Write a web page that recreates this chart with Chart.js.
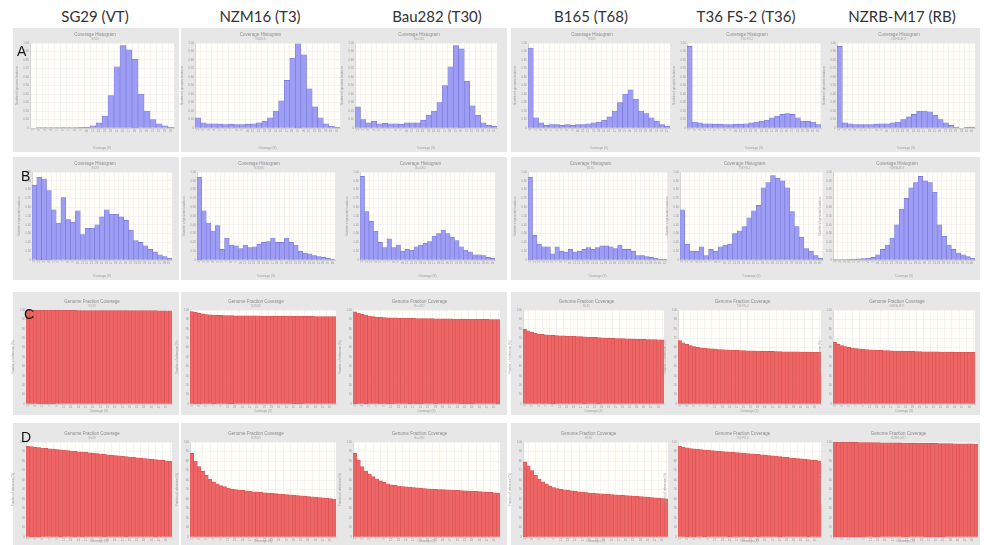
<!DOCTYPE html>
<html>
<head>
<meta charset="utf-8">
<script src="https://cdn.jsdelivr.net/npm/chart.js@4/dist/chart.umd.min.js"></script>
<style>
  body { margin: 0; width: 984px; height: 545px; overflow: hidden; position: relative; background: #fff; font-family: Lato, "Open Sans", sans-serif; }
  .panel { position: absolute; background: #e7e7e7; }
  .head { position: absolute; top: 7px; font-size: 15px; color: #333; transform: translateX(-50%); white-space: nowrap; }
  .letter { position: absolute; font-size: 14px; color: #111; font-family: "Liberation Sans", sans-serif; }
  canvas { position: absolute; }
</style>
</head>
<body>
<script>
// column headers
const samples = ['SG29 (VT)', 'NZM16 (T3)', 'Bau282 (T30)', 'B165 (T68)', 'T36 FS-2 (T36)', 'NZRB-M17 (RB)'];
const sampleIds = ['SG29', 'NZM16', 'Bau282', 'B165', 'T36 FS-2', 'NZRB-M17'];
const rowLetters = ['A', 'B', 'C', 'D'];
const rowTitles = ['Coverage Histogram', 'Coverage Histogram', 'Genome Fraction Coverage', 'Genome Fraction Coverage'];

// tick labels
const coverageLabels = ['1','2','3','4','5','6','7','8','9','10','11','12','13','14','15','16',
  '17','18','19','20','21','22','23','24','25','26','27','28','29','30','31'];
const fractionLabels = ['1','2','3','4','5','6','7','8','9','10','11','12','13','14','15','16','17','18','19','20',
  '21','22','23','24','25','26','27','28','29','30','31','32','33','34','35','36','37','38','39','40'];

// row A - coverage histogram (relative number of genomic locations)
const sg29A = [0,0.004,0.004,0.004,0.004,0.005,0.005,0.006,0.008,0.012,0.025,0.06,0.14,0.38,0.72,0.97,0.92,0.81,0.40,0.20,0.10,0.05,0.025,0.01];
const nzm16A = [0.12,0.06,0.05,0.05,0.045,0.04,0.045,0.04,0.04,0.045,0.05,0.06,0.08,0.12,0.2,0.32,0.56,0.82,0.99,0.86,0.46,0.25,0.12,0.05,0.02,0.01];
const bau282A = [0.25,0.1,0.06,0.08,0.05,0.055,0.05,0.05,0.045,0.06,0.06,0.06,0.09,0.15,0.2,0.3,0.5,0.72,0.97,0.93,0.55,0.26,0.15,0.06,0.03,0.02];
const b165A = [0.94,0.12,0.06,0.03,0.04,0.04,0.03,0.04,0.03,0.04,0.04,0.05,0.06,0.07,0.09,0.13,0.2,0.3,0.4,0.45,0.34,0.2,0.17,0.12,0.08,0.04,0.02];
const t36A = [0.96,0.07,0.06,0.05,0.05,0.045,0.045,0.04,0.04,0.045,0.045,0.05,0.06,0.07,0.08,0.09,0.12,0.14,0.16,0.17,0.16,0.12,0.08,0.08,0.07,0.04];
const nzrbA = [0.96,0.06,0.05,0.04,0.04,0.04,0.04,0.045,0.05,0.05,0.06,0.07,0.1,0.13,0.16,0.2,0.2,0.19,0.15,0.1,0.06,0.03,0.01,0,0.01,0.01];

// row B - coverage histogram
const sg29B = [0.85,0.94,0.92,0.79,0.57,0.42,0.71,0.46,0.43,0.56,0.29,0.36,0.36,0.40,0.49,0.57,0.52,0.52,0.49,0.45,0.34,0.22,0.2,0.16,0.12,0.09,0.06,0.04,0.02];
const nzm16B = [0.94,0.56,0.42,0.33,0.39,0.12,0.25,0.17,0.16,0.13,0.17,0.14,0.15,0.18,0.2,0.21,0.25,0.2,0.2,0.25,0.2,0.17,0.1,0.08,0.07,0.05,0.04,0.03,0.02,0.01];
const bau282B = [0.95,0.55,0.44,0.33,0.2,0.14,0.24,0.14,0.17,0.1,0.12,0.11,0.15,0.17,0.19,0.21,0.27,0.3,0.34,0.3,0.26,0.22,0.15,0.11,0.09,0.06,0.06,0.05,0.03,0.02];
const b165B = [0.94,0.28,0.18,0.15,0.15,0.07,0.15,0.1,0.09,0.12,0.09,0.1,0.12,0.14,0.12,0.14,0.16,0.16,0.15,0.13,0.17,0.12,0.12,0.1,0.05,0.05,0.04,0.03,0.02,0.01,0.01];
const t36B = [0.57,0.18,0.1,0.1,0.15,0.05,0.12,0.1,0.15,0.17,0.18,0.3,0.33,0.38,0.48,0.56,0.62,0.82,0.88,0.96,0.93,0.9,0.82,0.55,0.38,0.26,0.13,0.1,0.05,0.02];
const nzrbB = [0.005,0.005,0.005,0.008,0.01,0.012,0.015,0.02,0.03,0.06,0.12,0.17,0.25,0.4,0.58,0.7,0.82,0.88,0.95,0.9,0.88,0.77,0.4,0.27,0.17,0.12,0.08,0.06,0.04,0.02];

// row C - genome fraction coverage (%)
const sg29C = [99.8,99.8,99.8,99.7,99.7,99.7,99.7,99.7,99.6,99.6,99.6,99.6,99.6,99.6,99.5,99.5,99.5,99.5,99.5,99.5,
  99.5,99.4,99.4,99.4,99.4,99.4,99.4,99.4,99.3,99.3,99.3,99.3,99.3,99.3,99.3,99.3,99.2,99.2,99.2,99.2];
const nzm16C = [98.2,97.4,96.6,95.8,95.2,94.8,94.5,94.3,94.2,94.1,94.0,94.0,93.9,93.9,93.8,93.8,93.7,93.7,93.7,93.6,
  93.6,93.6,93.5,93.5,93.5,93.4,93.4,93.4,93.3,93.3,93.3,93.2,93.2,93.2,93.1,93.1,93.1,93.0,93.0,93.0];
const bau282C = [98.0,96.8,95.5,94.5,93.6,93.0,92.5,92.2,92.0,91.8,91.7,91.6,91.5,91.4,91.3,91.2,91.1,91.0,91.0,90.9,
  90.8,90.8,90.7,90.6,90.6,90.5,90.5,90.4,90.4,90.3,90.3,90.2,90.2,90.1,90.1,90.0,90.0,89.9,89.9,89.8];
const b165C = [79.5,77.8,76.4,75.3,74.5,74.0,73.6,73.3,73.0,72.8,72.6,72.4,72.2,72.1,72.0,71.8,71.6,71.4,71.2,71.0,
  70.8,70.6,70.4,70.2,70.0,69.8,69.7,69.6,69.5,69.3,69.2,69.0,68.9,68.8,68.7,68.6,68.5,68.4,68.3,68.2];
const t36C = [67.5,65.2,63.5,62.2,61.2,60.4,59.8,59.3,58.9,58.6,58.3,58.0,57.8,57.6,57.4,57.2,57.0,56.9,56.8,56.6,
  56.5,56.4,56.3,56.2,56.1,56.0,55.9,55.8,55.7,55.6,55.6,55.5,55.4,55.4,55.3,55.2,55.2,55.1,55.0,55.0];
const nzrbC = [65.5,63.6,62.2,61.1,60.2,59.5,59.0,58.6,58.2,57.9,57.6,57.4,57.2,57.0,56.8,56.7,56.5,56.4,56.3,56.2,
  56.1,56.0,55.9,55.8,55.7,55.6,55.6,55.5,55.4,55.4,55.3,55.3,55.2,55.2,55.1,55.1,55.0,55.0,54.9,54.9];

// row D - genome fraction coverage (%)
const sg29D = [95.5,95.1,94.6,94.2,93.7,93.3,92.9,92.5,92.1,91.7,91.3,90.9,90.5,90.1,89.7,89.4,89.0,88.6,88.2,87.8,
  87.4,87.0,86.6,86.2,85.8,85.4,85.0,84.6,84.2,83.8,83.4,83.0,82.6,82.2,81.8,81.4,81.0,80.7,80.3,80.0];
const nzm16D = [88,80,74,69,65,61,58,56,54,53,51.5,50.5,50,49.5,49,48.5,48,47.5,47.2,47,
  46.5,46.2,46,45.6,45.3,45,44.6,44.3,44,43.7,43.3,43,42.6,42.3,42,41.6,41.2,40.8,40.4,40];
const bau282D = [88,81,74,69,66,63.5,61,59,57.5,56,55,54.3,53.6,53.1,52.7,52.3,52,51.7,51.4,51.1,
  50.8,50.5,50.2,50,49.8,49.6,49.4,49.2,49,48.8,48.6,48.4,48.2,48,47.8,47.5,47.2,46.9,46.6,46.3];
const b165D = [79,75,70,65,61,58,55.5,53.5,52,51,50.2,49.6,49,48.5,48,47.6,47.2,46.8,46.3,46,
  45.7,45.4,45.1,44.8,44.6,44.4,44.2,44,43.7,43.4,43.1,42.8,42.5,42.2,41.9,41.6,41.3,40.9,40.5,40.1];
const t36D = [95.5,94.5,93.8,93.2,92.8,92.4,92.0,91.6,91.2,90.9,90.6,90.3,90.0,89.7,89.4,89.1,88.8,88.5,88.2,87.9,
  87.6,87.3,87.0,86.6,86.2,85.8,85.4,85.0,84.6,84.2,83.8,83.4,83.0,82.6,82.2,81.8,81.4,81.0,80.6,80.2];
const nzrbD = [99.8,99.8,99.7,99.7,99.6,99.6,99.6,99.5,99.5,99.4,99.4,99.3,99.3,99.2,99.2,99.1,99.1,99.0,99.0,98.9,
  98.9,98.8,98.8,98.7,98.7,98.6,98.6,98.5,98.5,98.4,98.4,98.3,98.3,98.2,98.2,98.1,98.1,98.0,98.0,97.9];

const rowData = [
  [sg29A, nzm16A, bau282A, b165A, t36A, nzrbA],
  [sg29B, nzm16B, bau282B, b165B, t36B, nzrbB],
  [sg29C, nzm16C, bau282C, b165C, t36C, nzrbC],
  [sg29D, nzm16D, bau282D, b165D, t36D, nzrbD]
];

// ---- layout (pixels) ----
const headX = [95, 260, 437, 591, 746, 902];
const panelY = [[28, 152], [157, 280], [292, 415], [423, 545]];
const panelX = [[13, 179], [181, 507], [511, 980]];
const plotY = [[43, 128], [172, 260], [310, 404], [442, 537]];
const plotX = [
  [[30,174],[195,340],[355,497],[528,670],[687,821],[837,975]],
  [[32,172],[197,335],[360,495],[528,667],[680,823],[833,975]],
  [[26,172],[190,336],[353,500],[523,664],[678,821],[833,975]],
  [[26,172],[190,336],[353,500],[523,668],[678,821],[833,978]]
];
const letterPos = [[17, 43], [21, 168], [24, 306], [21, 429]];

function addDiv(cls, x, y, w, h, text) {
  const d = document.createElement('div');
  d.className = cls;
  d.style.left = x + 'px';
  d.style.top = y + 'px';
  if (w) { d.style.width = w + 'px'; d.style.height = h + 'px'; }
  if (text) d.textContent = text;
  document.body.appendChild(d);
  return d;
}

panelY.forEach(([y1, y2]) => {
  panelX.forEach(([x1, x2]) => addDiv('panel', x1, y1, x2 - x1, y2 - y1));
});
samples.forEach((s, i) => addDiv('head', headX[i], 7, 0, 0, s));

const plotBg = {
  id: 'plotBg',
  beforeDraw(chart) {
    const { ctx, chartArea: a } = chart;
    ctx.save();
    ctx.fillStyle = '#fffef9';
    ctx.fillRect(a.left, a.top, a.width, a.height);
    ctx.restore();
  }
};

const axisW = 14;

function drawChart(r, c) {
  const hist = r < 2;
  const values = rowData[r][c];
  const [px1, px2] = plotX[r][c];
  const [py1, py2] = plotY[r];
  const top = panelY[r][0];
  const bottom = panelY[r][1] - 1;
  const left = px1 - axisW - 2;
  const width = px2 + 3 - left;
  const height = bottom - top;
  const xh = bottom - py2 - 1;
  const titlePad = (py1 - top) - 10.5;

  const canvas = document.createElement('canvas');
  canvas.width = width;
  canvas.height = height;
  canvas.style.left = left + 'px';
  canvas.style.top = top + 'px';
  document.body.appendChild(canvas);

  const grid = { color: '#ebebeb', lineWidth: 0.5, drawTicks: false };
  const tickFont = { size: 3, lineHeight: 1 };

  new Chart(canvas.getContext('2d'), {
    type: 'bar',
    data: {
      labels: (hist ? coverageLabels : fractionLabels).slice(0, values.length),
      datasets: [{
        data: values,
        backgroundColor: hist ? '#9d9df6' : '#ef6565',
        borderColor: hist ? '#7474cf' : '#d45252',
        borderWidth: 0.6,
        barPercentage: 1,
        categoryPercentage: 1
      }]
    },
    options: {
      responsive: false,
      animation: false,
      events: [],
      layout: { padding: { left: 2, right: 3, top: 0, bottom: 1 } },
      plugins: {
        legend: { display: false },
        tooltip: { enabled: false },
        title: {
          display: true, text: rowTitles[r], color: '#8a8a8a',
          font: { size: 4.5, lineHeight: 1, weight: 'normal' },
          padding: { top: titlePad, bottom: 0.5 }
        },
        subtitle: {
          display: true, text: sampleIds[c], color: '#aaa',
          font: { size: 3, lineHeight: 1 },
          padding: { top: 0, bottom: 2.5 }
        }
      },
      scales: {
        x: {
          grid: grid,
          border: { color: '#b5b5b5', width: 0.5 },
          ticks: { font: tickFont, color: '#999', minRotation: 90, maxRotation: 90, autoSkip: !hist, padding: 1 },
          title: { display: true, text: 'Coverage (X)', font: tickFont, color: '#999', padding: 0 },
          afterFit(s) { s.height = xh; }
        },
        y: {
          min: 0,
          max: hist ? 1 : 100,
          grid: grid,
          border: { color: '#b5b5b5', width: 0.5 },
          ticks: { font: tickFont, color: '#999', stepSize: hist ? 0.05 : 5, padding: 1 },
          title: { display: true, text: hist ? 'Number of genomic locations' : 'Fraction of reference (%)', font: tickFont, color: '#999', padding: 0 },
          afterFit(s) { s.width = axisW; }
        }
      }
    },
    plugins: [plotBg]
  });
}

for (let r = 0; r < 4; r++) {
  for (let c = 0; c < 6; c++) drawChart(r, c);
}

rowLetters.forEach((l, i) => addDiv('letter', letterPos[i][0], letterPos[i][1], 0, 0, l));
</script>
</body>
</html>
